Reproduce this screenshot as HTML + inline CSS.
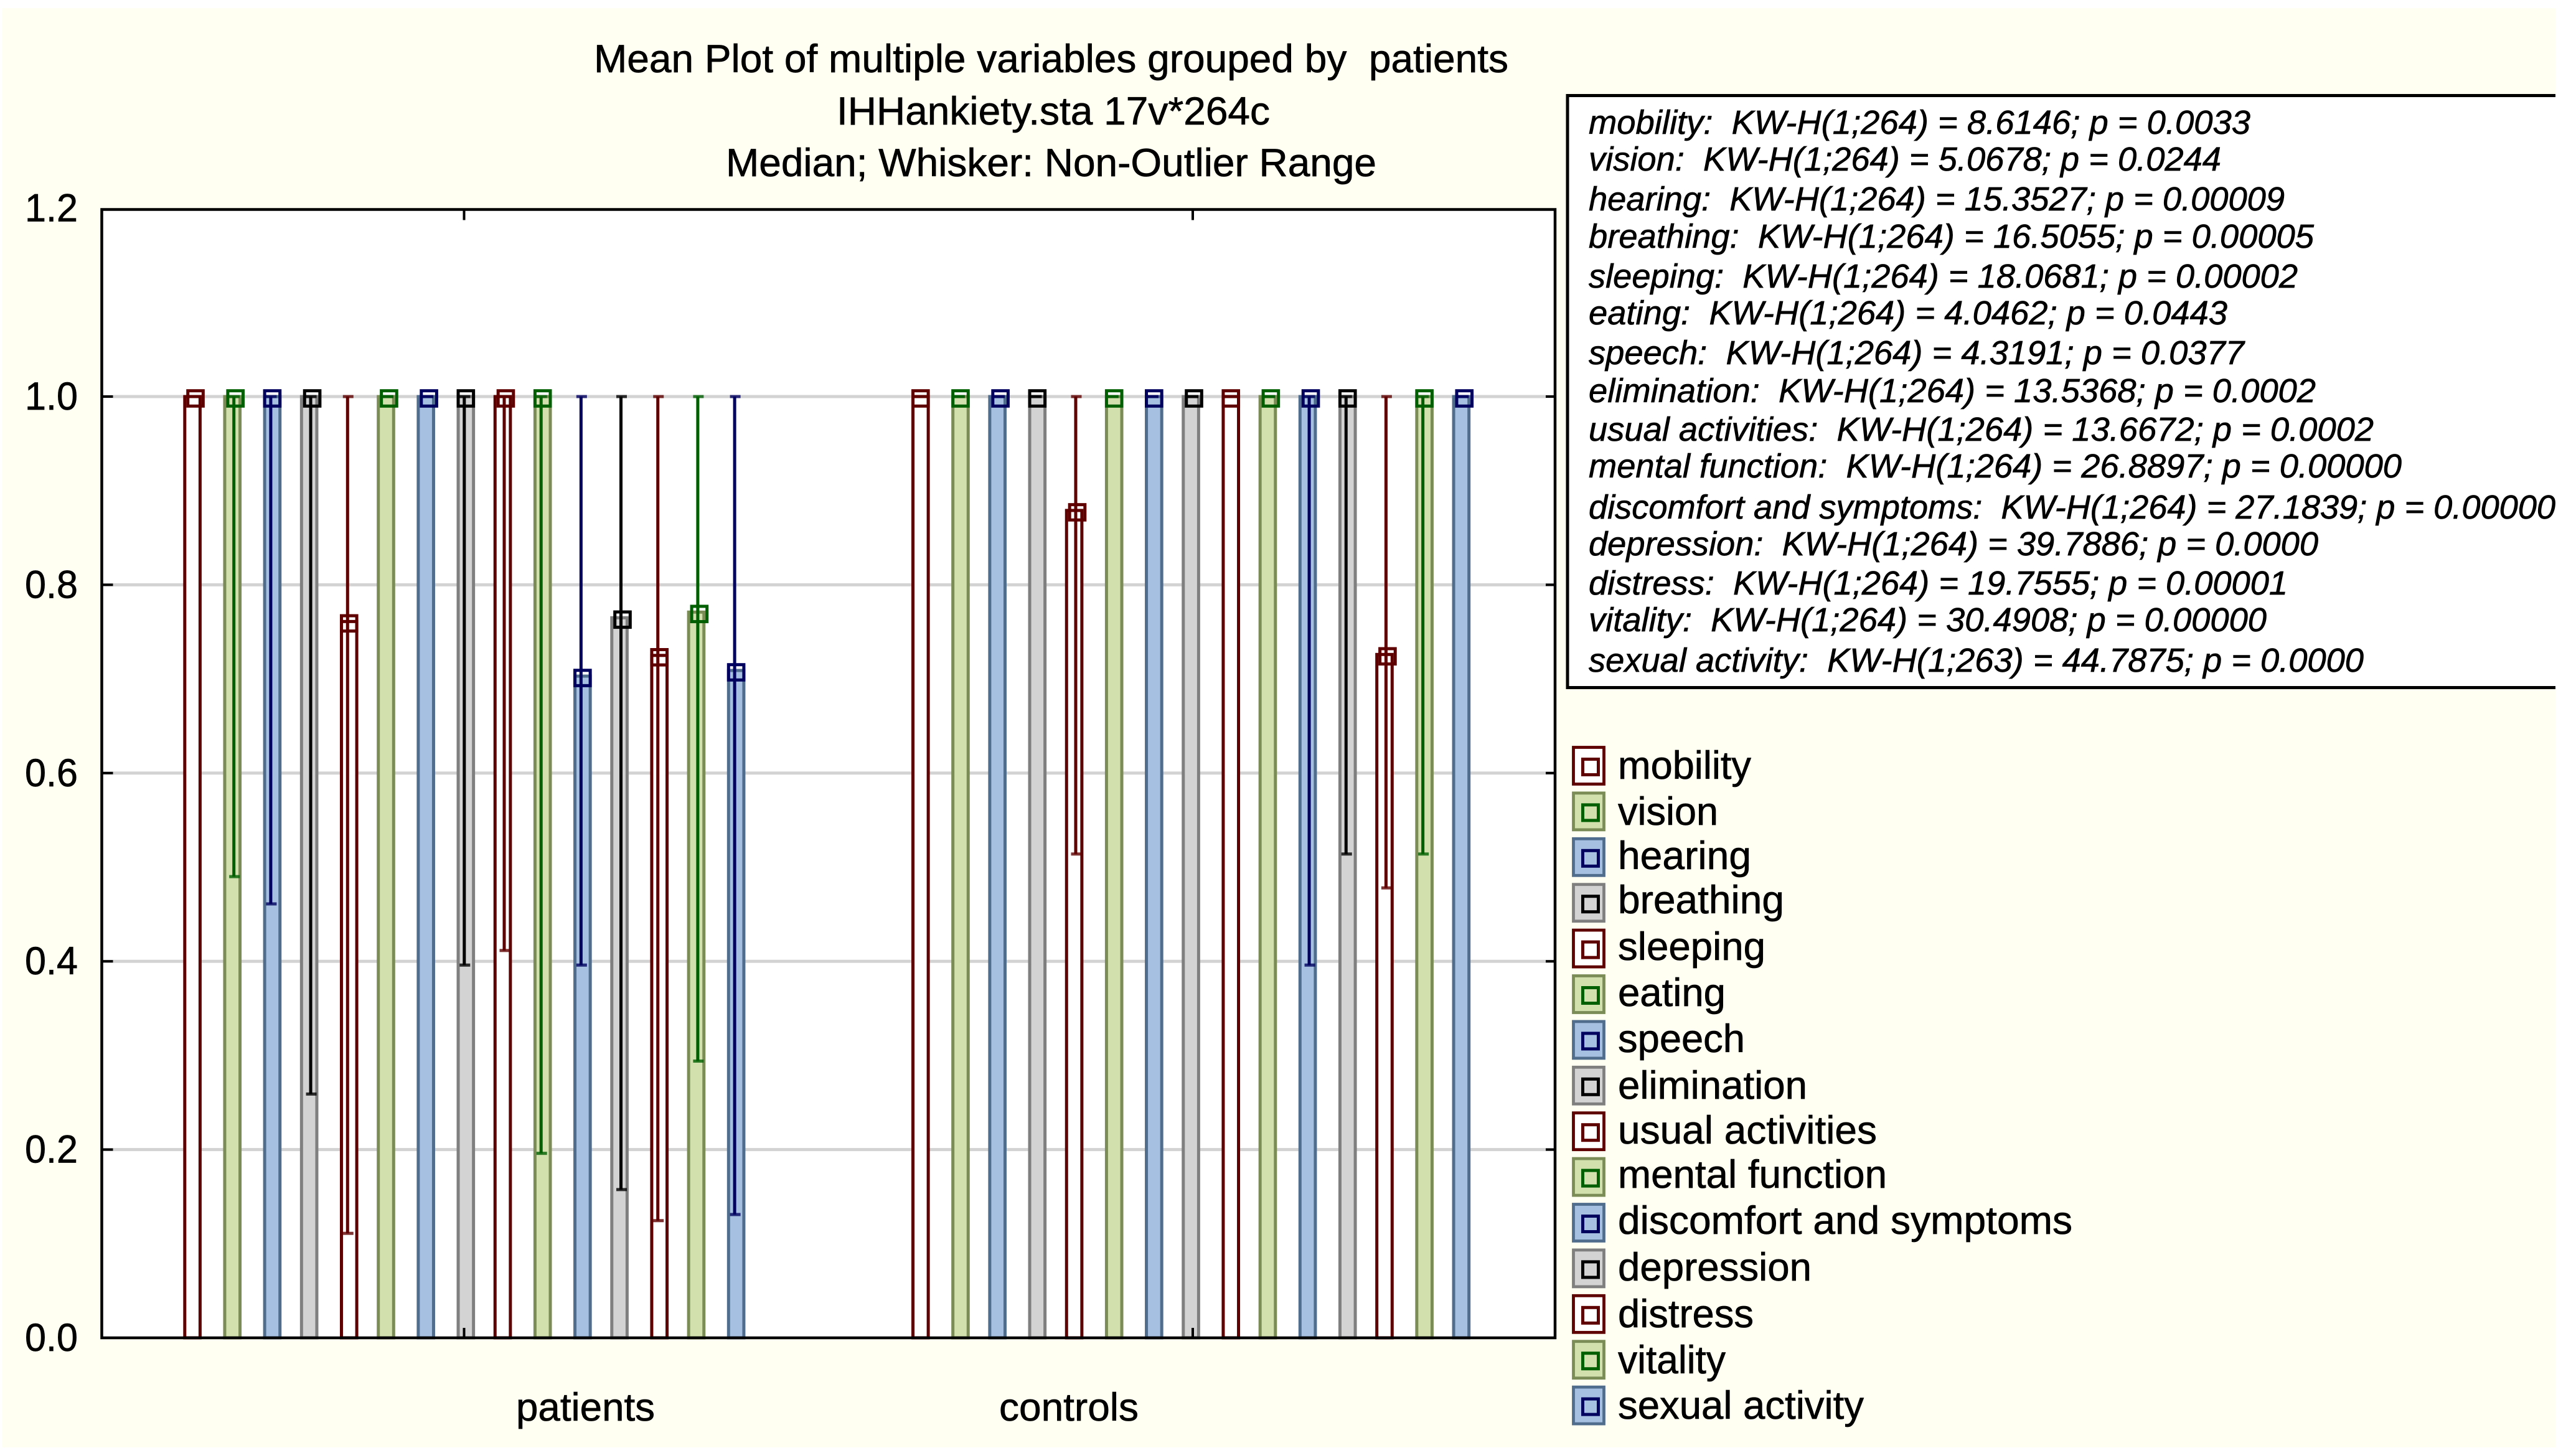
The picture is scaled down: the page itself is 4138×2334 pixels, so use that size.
<!DOCTYPE html>
<html lang="en">
<head>
<meta charset="utf-8">
<title>Mean Plot of multiple variables grouped by patients</title>
<style>
html,body{margin:0;padding:0;background:#fff;width:4138px;height:2334px;overflow:hidden}
svg{display:block}
text{font-family:"Liberation Sans",sans-serif;fill:#000;white-space:pre;stroke:#000;stroke-width:0.7px}
.stat{font-size:54px;font-style:italic}
.leg{font-size:63px}
.ttl{font-size:63px}
</style>
</head>
<body>
<svg id="chart" xmlns="http://www.w3.org/2000/svg" width="4138" height="2334" viewBox="0 0 4138 2334">
  <defs>
    <clipPath id="stats-clip"><rect x="2500" y="140" width="1605" height="980"/></clipPath>
  </defs>
  <rect x="3" y="13" width="4102" height="2312" fill="#fffff2"/>

  <g>
    <text class="ttl" x="954" y="116" textLength="1469" lengthAdjust="spacingAndGlyphs">Mean Plot of multiple variables grouped by  patients</text>
    <text class="ttl" x="1344" y="200" textLength="696" lengthAdjust="spacingAndGlyphs">IHHankiety.sta 17v*264c</text>
    <text class="ttl" x="1166" y="283" textLength="1045" lengthAdjust="spacingAndGlyphs">Median; Whisker: Non-Outlier Range</text>
  </g>

  <g id="plot"></g>

  <text class="ttl" x="829" y="2282" textLength="223" lengthAdjust="spacingAndGlyphs">patients</text>
  <text class="ttl" x="1605" y="2282" textLength="224" lengthAdjust="spacingAndGlyphs">controls</text>

  <g clip-path="url(#stats-clip)">
    <rect x="2518" y="153.5" width="1700" height="951" fill="#fff" stroke="#000" stroke-width="5"/>
    <text class="stat" x="2552" y="215" textLength="1063" lengthAdjust="spacingAndGlyphs">mobility:  KW-H(1;264) = 8.6146; p = 0.0033</text>
    <text class="stat" x="2552" y="274" textLength="1016" lengthAdjust="spacingAndGlyphs">vision:  KW-H(1;264) = 5.0678; p = 0.0244</text>
    <text class="stat" x="2552" y="338" textLength="1118" lengthAdjust="spacingAndGlyphs">hearing:  KW-H(1;264) = 15.3527; p = 0.00009</text>
    <text class="stat" x="2552" y="398" textLength="1165" lengthAdjust="spacingAndGlyphs">breathing:  KW-H(1;264) = 16.5055; p = 0.00005</text>
    <text class="stat" x="2552" y="462" textLength="1139" lengthAdjust="spacingAndGlyphs">sleeping:  KW-H(1;264) = 18.0681; p = 0.00002</text>
    <text class="stat" x="2552" y="521" textLength="1026" lengthAdjust="spacingAndGlyphs">eating:  KW-H(1;264) = 4.0462; p = 0.0443</text>
    <text class="stat" x="2552" y="585" textLength="1053" lengthAdjust="spacingAndGlyphs">speech:  KW-H(1;264) = 4.3191; p = 0.0377</text>
    <text class="stat" x="2552" y="646" textLength="1168" lengthAdjust="spacingAndGlyphs">elimination:  KW-H(1;264) = 13.5368; p = 0.0002</text>
    <text class="stat" x="2552" y="708" textLength="1261" lengthAdjust="spacingAndGlyphs">usual activities:  KW-H(1;264) = 13.6672; p = 0.0002</text>
    <text class="stat" x="2552" y="767" textLength="1306" lengthAdjust="spacingAndGlyphs">mental function:  KW-H(1;264) = 26.8897; p = 0.00000</text>
    <text class="stat" x="2552" y="833" textLength="1553" lengthAdjust="spacingAndGlyphs">discomfort and symptoms:  KW-H(1;264) = 27.1839; p = 0.00000</text>
    <text class="stat" x="2552" y="892" textLength="1172" lengthAdjust="spacingAndGlyphs">depression:  KW-H(1;264) = 39.7886; p = 0.0000</text>
    <text class="stat" x="2552" y="955" textLength="1123" lengthAdjust="spacingAndGlyphs">distress:  KW-H(1;264) = 19.7555; p = 0.00001</text>
    <text class="stat" x="2552" y="1014" textLength="1089" lengthAdjust="spacingAndGlyphs">vitality:  KW-H(1;264) = 30.4908; p = 0.00000</text>
    <text class="stat" x="2552" y="1079" textLength="1245" lengthAdjust="spacingAndGlyphs">sexual activity:  KW-H(1;263) = 44.7875; p = 0.0000</text>
  </g>

  <g id="legend-swatches"></g>
  <g>
    <text class="leg" x="2599" y="1251" textLength="214" lengthAdjust="spacingAndGlyphs">mobility</text>
    <text class="leg" x="2599" y="1325" textLength="161" lengthAdjust="spacingAndGlyphs">vision</text>
    <text class="leg" x="2599" y="1396" textLength="214" lengthAdjust="spacingAndGlyphs">hearing</text>
    <text class="leg" x="2599" y="1467" textLength="267" lengthAdjust="spacingAndGlyphs">breathing</text>
    <text class="leg" x="2599" y="1542" textLength="237" lengthAdjust="spacingAndGlyphs">sleeping</text>
    <text class="leg" x="2599" y="1616" textLength="173" lengthAdjust="spacingAndGlyphs">eating</text>
    <text class="leg" x="2599" y="1690" textLength="204" lengthAdjust="spacingAndGlyphs">speech</text>
    <text class="leg" x="2599" y="1765" textLength="304" lengthAdjust="spacingAndGlyphs">elimination</text>
    <text class="leg" x="2599" y="1837" textLength="416" lengthAdjust="spacingAndGlyphs">usual activities</text>
    <text class="leg" x="2599" y="1908" textLength="432" lengthAdjust="spacingAndGlyphs">mental function</text>
    <text class="leg" x="2599" y="1982" textLength="730" lengthAdjust="spacingAndGlyphs">discomfort and symptoms</text>
    <text class="leg" x="2599" y="2057" textLength="311" lengthAdjust="spacingAndGlyphs">depression</text>
    <text class="leg" x="2599" y="2132" textLength="218" lengthAdjust="spacingAndGlyphs">distress</text>
    <text class="leg" x="2599" y="2206" textLength="173" lengthAdjust="spacingAndGlyphs">vitality</text>
    <text class="leg" x="2599" y="2279" textLength="395" lengthAdjust="spacingAndGlyphs">sexual activity</text>
  </g>
</svg>

<script>
const variables = ['mobility','vision','hearing','breathing','sleeping','eating','speech','elimination','usual-activities','mental-function','discomfort-and-symptoms','depression','distress','vitality','sexual-activity'];
const yTickValues = [0, 0.2, 0.4, 0.6, 0.8, 1.0, 1.2];
const yTickLabels = ['0.0','0.2','0.4','0.6','0.8','1.0','1.2'];
const medianPatients = [1,1,1,1,0.761,1,1,1,1,1,0.703,0.765,0.725,0.771,0.709];
const whiskerHighPatients = [1,1,1,1,1,1,1,1,1,1,1,1,1,1,1];
const whiskerLowPatients = [1,0.49,0.461,0.259,0.111,1,1,0.396,0.4115,0.196,0.396,0.1575,0.1245,0.294,0.131];
const medianControls = [1,1,1,1,0.879,1,1,1,1,1,1,1,0.726,1,1];
const whiskerHighControls = [1,1,1,1,1,1,1,1,1,1,1,1,1,1,1];
const whiskerLowControls = [1,1,1,1,0.514,1,1,1,1,1,0.396,0.514,0.478,0.514,1];

const NS = 'http://www.w3.org/2000/svg';
const plot = document.getElementById('plot');
const legendGroup = document.getElementById('legend-swatches');

const PLOT = {left:163.5, right:2498, top:336.5, bottom:2149};
const UNIT = 1512;
const CELL = 4.935;
const BAR_W = 6 * CELL;
const LINE = 5;

const PALETTE = [
  {fill:'#ffffff', edge:'#5f0000', dark:'#5f0000'},
  {fill:'#d1e0ad', edge:'#7b8c57', dark:'#005f00'},
  {fill:'#a6c0e2', edge:'#516d8e', dark:'#00005f'},
  {fill:'#d3d3d3', edge:'#7f7f7f', dark:'#000000'}
];

const GROUP_PATIENTS = {name:'patients', origin:294.3, barStep:12.63, barPhase:0.27, markStep:12.6, markPhase:1,
  median:medianPatients, high:whiskerHighPatients, low:whiskerLowPatients};
const GROUP_CONTROLS = {name:'controls', origin:1464, barStep:12.6, barPhase:0, markStep:12.63, markPhase:0.27,
  median:medianControls, high:whiskerHighControls, low:whiskerLowControls};

function yScale(v){ return PLOT.bottom - v * UNIT; }
function barLeft(g, i){ return g.origin + Math.round(i * g.barStep + g.barPhase) * CELL; }
function markLeft(g, i){ return g.origin + Math.round(i * g.markStep + g.markPhase) * CELL; }

function make(tag, attrs, parent){
  const el = document.createElementNS(NS, tag);
  for (const k in attrs) el.setAttribute(k, attrs[k]);
  parent.appendChild(el);
  return el;
}

/* plot background */
const bgRect = make('rect', {x:PLOT.left, y:PLOT.top, width:PLOT.right-PLOT.left, height:PLOT.bottom-PLOT.top, fill:'#fff'}, plot);



/* gridlines */
yTickValues.forEach(function(v, k){
  if (v === 0 || v === 1.2) return;
  const grid = make('rect', {x:PLOT.left, y:yScale(v)-2.5, width:PLOT.right-PLOT.left, height:5, fill:'#d3d3d3'}, plot);
  
  
});

/* series */
[GROUP_PATIENTS, GROUP_CONTROLS].forEach(function(g){
  variables.forEach(function(name, i){
    const c = PALETTE[i % 4];
    const bx = barLeft(g, i);
    const mx = markLeft(g, i);
    const yMed = yScale(g.median[i]);

    const bar = make('rect', {x:bx+LINE/2, y:yMed-2.5+LINE/2, width:BAR_W-LINE, height:yScale(0)-yMed+2.5-LINE/2, fill:c.fill, stroke:c.edge, 'stroke-width':LINE}, plot);
    
    

    const wx = mx + 12.3;
    const yHigh = yScale(g.high[i]);
    const yLow = yScale(g.low[i]);
    const whisker = make('rect', {x:wx-LINE/2, y:yHigh, width:LINE, height:Math.max(0, yLow-yHigh), fill:c.dark}, plot);
    
    

    const capHigh = make('rect', {x:wx-7.5, y:yHigh-2.5, width:17, height:LINE, fill:c.dark, 'fill-opacity':0.8}, plot);
    
    

    const capLow = make('rect', {x:wx-7.5, y:yLow-2.5, width:17, height:LINE, fill:c.dark, 'fill-opacity':0.8}, plot);
    
    

    const marker = make('rect', {x:mx+LINE/2, y:yMed+3-BAR_W/2+LINE/2, width:BAR_W-LINE, height:BAR_W-LINE, fill:'none', stroke:c.dark, 'stroke-width':LINE}, plot);
    
    
  });
});

/* frame */
const frame = make('rect', {x:PLOT.left, y:PLOT.top, width:PLOT.right-PLOT.left, height:PLOT.bottom-PLOT.top, fill:'none', stroke:'#000', 'stroke-width':4.5}, plot);



/* y ticks and labels */
yTickValues.forEach(function(v, k){
  const y = yScale(v);
  if (v !== 0 && v !== 1.2) {
    const tl = make('rect', {x:PLOT.left, y:y-2, width:18, height:4, fill:'#000'}, plot);
    
    
    const tr = make('rect', {x:PLOT.right-15, y:y-2, width:15, height:4, fill:'#000'}, plot);
    
    
  }
  const label = make('text', {x:40, y:y+21, 'font-size':63, textLength:85, lengthAdjust:'spacingAndGlyphs'}, plot);
  label.textContent = yTickLabels[k];
  
  
});

/* x ticks */
[745.5, 1916].forEach(function(cx, k){
  const top = make('rect', {x:cx-2, y:PLOT.top, width:4, height:17, fill:'#000'}, plot);
  
  
  const bot = make('rect', {x:cx-2, y:PLOT.bottom-16, width:4, height:16, fill:'#000'}, plot);
  
  
});

/* legend swatches */
variables.forEach(function(name, i){
  const c = PALETTE[i % 4];
  const top = 1198 + i * 73.4;
  const sw = make('rect', {x:2527.5, y:top+2.5, width:49, height:59, fill:c.fill, stroke:c.edge, 'stroke-width':4.8}, legendGroup);
  
  
  const mk = make('rect', {x:2542.5, y:top+21.5, width:25, height:25, fill:'none', stroke:c.dark, 'stroke-width':5}, legendGroup);
  
  
});
</script>
</body>
</html>
